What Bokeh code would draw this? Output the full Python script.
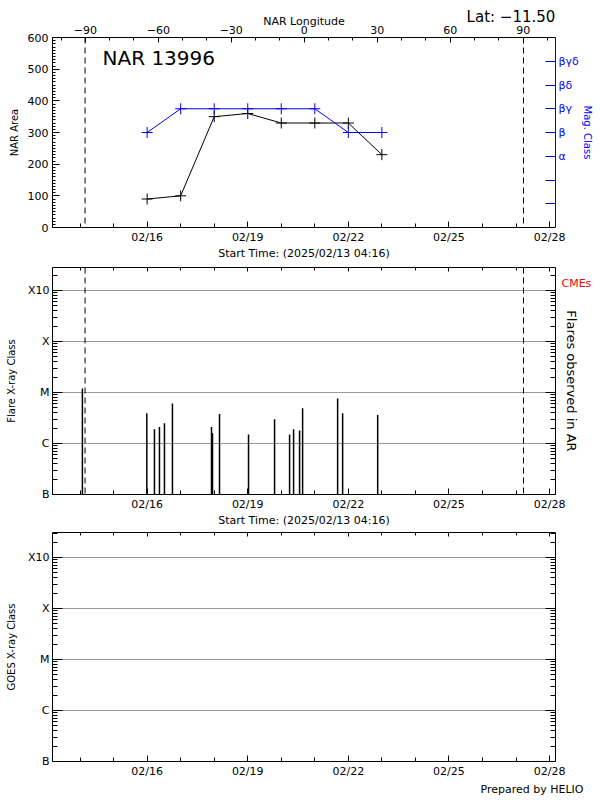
import numpy as np
from bokeh.plotting import figure
from bokeh.models import (Range1d, LinearAxis, LogAxis, FixedTicker, Label, Span,
                          LinearScale)
from bokeh.layouts import column
from bokeh.embed import file_html
from bokeh.resources import INLINE

# ---------------- data ----------------
START = "2025-02-13T04:16"
END = "2025-02-28T04:16"
tick_dates = ["2025-02-16", "2025-02-19", "2025-02-22", "2025-02-25", "2025-02-28"]
tick_labels = ["02/16", "02/19", "02/22", "02/25", "02/28"]
minor_dates = ["2025-02-%02d" % d for d in range(14, 29)]

nar_dates = ["2025-02-16", "2025-02-17", "2025-02-18", "2025-02-19",
             "2025-02-20", "2025-02-21", "2025-02-22", "2025-02-23"]
nar_area = [90, 100, 350, 360, 330, 330, 330, 230]
mag_class = [4, 5, 5, 5, 5, 5, 4, 4]
mag_ticks = [1, 2, 3, 4, 5, 6, 7]
mag_labels = ["", "", "α", "β", "βγ", "βδ", "βγδ"]

area_ticks = [0, 100, 200, 300, 400, 500, 600]
limb_times = ["2025-02-14T03:34", "2025-02-27T05:22"]
lon_start, lon_end = -103.5, 103.3
lon_ticks = [-90, -60, -30, 0, 30, 60, 90]
lon_minor = list(range(-100, 101, 10))

flare_times = ["2025-02-14T01:40", "2025-02-15T23:47", "2025-02-16T05:14",
               "2025-02-16T08:49", "2025-02-16T12:24", "2025-02-16T18:07",
               "2025-02-17T22:04", "2025-02-17T22:47", "2025-02-18T03:48",
               "2025-02-19T00:34", "2025-02-19T19:12", "2025-02-20T05:57",
               "2025-02-20T08:49", "2025-02-20T13:06", "2025-02-20T15:16",
               "2025-02-21T16:20", "2025-02-21T19:55", "2025-02-22T21:00"]
flare_classes = ["M1.2", "C3.9", "C1.9", "C2.1", "C2.5", "C6.1", "C2.1", "C1.6",
                 "C3.8", "C1.5", "C3.0", "C1.5", "C1.9", "C1.8", "C4.9", "C7.6",
                 "C3.9", "C3.6"]
class_ticks = [1e-7, 1e-6, 1e-5, 1e-4, 1e-3]
class_labels = ["B", "C", "M", "X", "X10"]
class_base = {"B": 1e-7, "C": 1e-6, "M": 1e-5, "X": 1e-4}

FONT = "DejaVu Sans"
BLUE = "#0000ff"
W = 600
BL, BR = 52, 45
FW = W - BL - BR  # frame width in px


def ms(s):
    return float(np.datetime64(s, "ms").astype(np.int64))


t0, t1 = ms(START), ms(END)
major_ms = [ms(d) for d in tick_dates]
minor_ms = [ms(d) for d in minor_dates]
time_overrides = {m: lab for m, lab in zip(major_ms, tick_labels)}
nar_t = [ms(d) for d in nar_dates]
flare_t = [ms(t) for t in flare_times]
flare_flux = [class_base[c[0]] * float(c[1:]) for c in flare_classes]
log_minor = [k * 10.0 ** e for e in range(-7, -2) for k in range(2, 10)]


def style(ax, tin, min_in, size="11px", color="black"):
    ax.major_tick_in = tin
    ax.major_tick_out = 0
    ax.minor_tick_in = min_in
    ax.minor_tick_out = 0
    ax.axis_line_color = color
    ax.major_tick_line_color = color
    ax.minor_tick_line_color = color
    ax.major_label_text_font = FONT
    ax.major_label_text_font_size = size
    ax.major_label_text_color = color
    ax.axis_label_text_font = FONT
    ax.axis_label_text_font_style = "normal"
    ax.axis_label_text_color = color


def hide_labels(ax):
    ax.major_label_text_font_size = "1px"
    ax.major_label_text_alpha = 0
    ax.major_label_standoff = 0


def text_axis(range_name, pos, text, size, color, standoff):
    """An axis with no line and no ticks, used only to place one text beside the frame."""
    ax = LinearAxis(x_range_name=range_name) if range_name == "px" else LinearAxis(y_range_name=range_name)
    ax.ticker = FixedTicker(ticks=[pos])
    ax.major_label_overrides = {pos: text}
    ax.axis_line_color = None
    ax.major_tick_line_color = None
    ax.minor_tick_line_color = None
    ax.major_label_text_font = FONT
    ax.major_label_text_font_size = size
    ax.major_label_text_color = color
    ax.major_label_standoff = standoff
    return ax


def time_axis(ax, labels=True):
    ax.ticker = FixedTicker(ticks=major_ms, minor_ticks=minor_ms)
    if labels:
        ax.major_label_overrides = time_overrides


def base_fig(h, top, bottom, yr, ytype="linear"):
    p = figure(width=W, height=h, x_axis_type="datetime", y_axis_type=ytype,
               x_range=Range1d(t0, t1), y_range=yr,
               output_backend="svg", toolbar_location=None,
               min_border_left=BL, min_border_right=BR,
               min_border_top=top, min_border_bottom=bottom)
    p.outline_line_color = None
    p.background_fill_color = "white"
    p.border_fill_color = "white"
    p.extra_x_ranges = {"px": Range1d(0, FW)}
    return p


# ---------------- panel 1 ----------------
p1 = base_fig(264, 37, 37, Range1d(0, 600))
p1.grid.visible = False
p1.extra_x_ranges["lon"] = Range1d(lon_start, lon_end)
p1.extra_y_ranges = {"mag": Range1d(0, 8)}

xa = p1.xaxis[0]
time_axis(xa)
style(xa, 6, 4)
xa.axis_label = "Start Time: (2025/02/13 04:16)"
xa.axis_label_text_font_size = "11px"
xa.major_label_standoff = 3
xa.axis_label_standoff = 0

ya = p1.yaxis[0]
ya.ticker = FixedTicker(ticks=area_ticks, minor_ticks=list(range(0, 601, 10)))
style(ya, 7, 3)
ya.axis_label = "NAR Area"
ya.axis_label_text_font_size = "10px"
ya.major_label_standoff = 4
ya.axis_label_standoff = 5

lon_ax = LinearAxis(x_range_name="lon",
                    ticker=FixedTicker(ticks=lon_ticks, minor_ticks=lon_minor),
                    axis_label="NAR Longitude")
style(lon_ax, 5, 3)
lon_ax.axis_label_text_font_size = "11px"
lon_ax.major_label_standoff = 4
lon_ax.axis_label_standoff = -5
p1.add_layout(lon_ax, "above")
p1.add_layout(text_axis("px", 458.5, "Lat: −11.50", "15px", "black", -20), "above")

mag_ax = LinearAxis(y_range_name="mag", ticker=FixedTicker(ticks=mag_ticks),
                    major_label_overrides={t: l for t, l in zip(mag_ticks, mag_labels)},
                    axis_label="Mag. Class")
style(mag_ax, 10, 0, color=BLUE)
mag_ax.minor_tick_line_color = None
mag_ax.axis_label_text_font_size = "10px"
mag_ax.major_label_standoff = 3
mag_ax.axis_label_standoff = 0
p1.add_layout(mag_ax, "right")

for lt in limb_times:
    p1.add_layout(Span(location=ms(lt), dimension="height", line_color="black",
                       line_dash="6 4", line_width=1))

p1.line(nar_t, nar_area, line_color="black", line_width=1)
p1.scatter(nar_t, nar_area, marker="cross", size=11, line_color="black", line_width=1)
p1.line(nar_t, mag_class, y_range_name="mag", line_color=BLUE, line_width=1)
p1.scatter(nar_t, mag_class, y_range_name="mag", marker="cross", size=11,
           line_color=BLUE, line_width=1)

p1.add_layout(Label(x=50, y=170, x_units="screen", y_units="screen", text="NAR 13996",
                    text_baseline="alphabetic",
                    text_font=FONT, text_font_size="20px", text_color="black"))


# ---------------- panel 2 & 3 ----------------
def class_panel(h, top, bottom, ytop, ylabel, xlabel):
    p = base_fig(h, top, bottom, Range1d(class_ticks[0], ytop), ytype="log")
    p.xgrid.visible = False
    p.ygrid.ticker = FixedTicker(ticks=class_ticks[1:])
    p.ygrid.grid_line_color = "#999999"
    p.ygrid.grid_line_width = 1
    xa = p.xaxis[0]
    time_axis(xa)
    style(xa, 6, 4)
    xa.major_label_standoff = 3
    if xlabel:
        xa.axis_label = xlabel
        xa.axis_label_text_font_size = "11px"
        xa.axis_label_standoff = 0
    ya = p.yaxis[0]
    ya.ticker = FixedTicker(ticks=class_ticks, minor_ticks=log_minor)
    ya.major_label_overrides = {t: l for t, l in zip(class_ticks, class_labels)}
    style(ya, 10, 5)
    ya.axis_label = ylabel
    ya.axis_label_text_font_size = "10px"
    ya.major_label_standoff = 3
    ya.axis_label_standoff = 8
    top_ax = LinearAxis()
    time_axis(top_ax, labels=False)
    style(top_ax, 4, 3)
    hide_labels(top_ax)
    p.add_layout(top_ax, "above")
    right_ax = LogAxis(ticker=FixedTicker(ticks=class_ticks, minor_ticks=log_minor))
    style(right_ax, 10, 5)
    hide_labels(right_ax)
    p.add_layout(right_ax, "right")
    return p, right_ax


p2, r2 = class_panel(265, 3, 35, 10 ** -2.55, "Flare X-ray Class",
                     "Start Time: (2025/02/13 04:16)")
p2.extra_y_ranges = {"py": Range1d(0, 227)}
p2.extra_y_scales = {"py": LinearScale()}
r2.axis_label = "Flares observed in AR"
r2.axis_label_text_font_size = "13px"
r2.axis_label_standoff = 8
p2.add_layout(text_axis("py", 211, "CMEs", "11px", "red", -26), "right")
for lt in limb_times:
    p2.add_layout(Span(location=ms(lt), dimension="height", line_color="black",
                       line_dash="6 4", line_width=1))
p2.segment(x0=flare_t, y0=[class_ticks[0]] * len(flare_t), x1=flare_t, y1=flare_flux,
           line_color="black", line_width=1.5)

p3, r3 = class_panel(271, 3, 39, 10 ** -2.51, "GOES X-ray Class", None)
p3.add_layout(text_axis("px", 479.5, "Prepared by HELIO", "11px", "black", -4), "below")

layout = column(p1, p2, p3, spacing=0)
open("out.html", "w").write(file_html(layout, INLINE))
